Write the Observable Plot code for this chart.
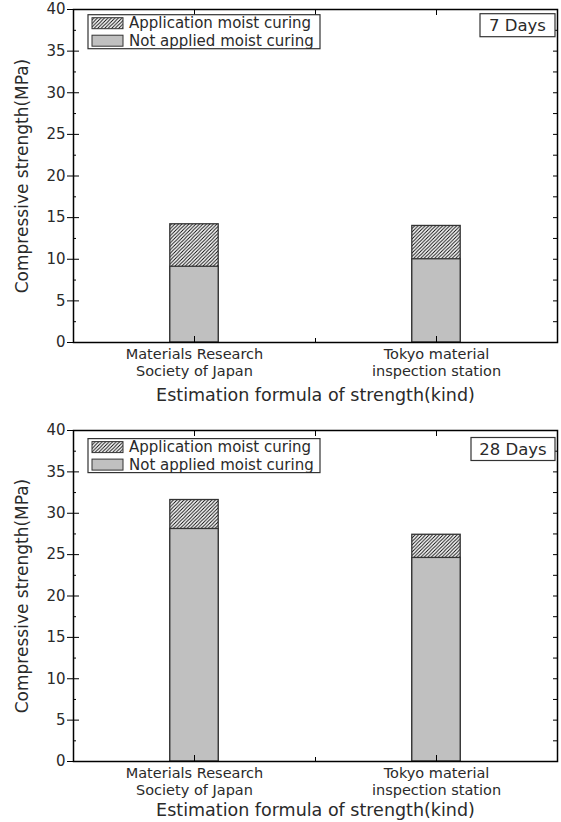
<!DOCTYPE html>
<html>
<head>
<meta charset="utf-8">
<script src="https://cdn.jsdelivr.net/npm/d3@7"></script>
<script src="https://cdn.jsdelivr.net/npm/@observablehq/plot@0.6"></script>
<style>
  body { margin: 0; background: #fff; }
  #chart svg { display: block; }
</style>
</head>
<body>
<div id="chart"></div>
<script>
// ---- data ----
const categories = ["Materials Research\nSociety of Japan", "Tokyo material\ninspection station"];
const seriesNames = ["Application moist curing", "Not applied moist curing"];
const panelLabels = ["7 Days", "28 Days"];
const applied7 = [14.2, 14.0];
const notApplied7 = [9.1, 10.0];
const applied28 = [31.6, 27.4];
const notApplied28 = [28.1, 24.6];
const yMajorTicks = [0, 5, 10, 15, 20, 25, 30, 35, 40];
const yMinorTicks = [2.5, 7.5, 12.5, 17.5, 22.5, 27.5, 32.5, 37.5];
const yLabel = "Compressive strength(MPa)";
const xLabel = "Estimation formula of strength(kind)";

const FONT = "'DejaVu Sans', 'Liberation Sans', sans-serif";
const TEXT = "#2a2a2a";
const W = 561;

const panels = [
  {label: panelLabels[0], applied: applied7, notApplied: notApplied7, height: 411, marginTop: 9, marginBottom: 69, legendDy: 5.7, daysDy: 4.7, titleDy: 53},
  {label: panelLabels[1], applied: applied28, notApplied: notApplied28, height: 411, marginTop: 19, marginBottom: 61, legendDy: 8.6, daysDy: 7.5, titleDy: 49}
];

const idx = categories.map((_, i) => i);
const halfW = 0.1;

panels.forEach((p, k) => {
  const hatchId = "hatch" + k;
  const marginLeft = 73, marginRight = 4;
  const chart = Plot.plot({
    width: W,
    height: p.height,
    marginLeft, marginRight,
    marginTop: p.marginTop,
    marginBottom: p.marginBottom,
    style: {fontFamily: FONT, color: "#000", background: "#fff"},
    x: {type: "linear", domain: [-0.5, 1.5], axis: null},
    y: {domain: [0, 40], axis: null},
    marks: [
      Plot.rectY(idx, {x1: i => i - halfW, x2: i => i + halfW, y1: 0, y2: i => p.applied[i], fill: `url(#${hatchId})`, stroke: "#333", strokeWidth: 1.3}),
      Plot.rectY(idx, {x1: i => i - halfW, x2: i => i + halfW, y1: 0, y2: i => p.notApplied[i], fill: "#c0c0c0", stroke: "#333", strokeWidth: 1.3}),
      // left axis
      Plot.axisY(yMajorTicks, {anchor: "left", tickSize: 6, tickPadding: 2, fontSize: 15, label: null, tickFormat: d => d, fill: TEXT}),
      Plot.axisY(yMajorTicks, {anchor: "left", tickSize: -6, text: null, label: null}),
      Plot.axisY(yMinorTicks, {anchor: "left", tickSize: -3, text: null, label: null}),
      // right axis
      Plot.axisY([...yMajorTicks, ...yMinorTicks], {anchor: "right", tickSize: -5, text: null, label: null}),
      // bottom axis
      Plot.axisX(idx, {anchor: "bottom", tickSize: -6, text: null, label: null}),
      Plot.axisX([0.5], {anchor: "bottom", tickSize: -4, text: null, label: null}),
      Plot.axisX(idx, {anchor: "bottom", tickSize: 0, tickPadding: 5, fontSize: 14.5, lineHeight: 1.15, label: null, tickFormat: i => categories[i], fill: TEXT}),
      // top axis
      Plot.axisX([0, 0.5, 1], {anchor: "top", tickSize: -5, text: null, label: null}),
      Plot.frame({stroke: "#000", strokeWidth: 1.5}),
      Plot.text([xLabel], {frameAnchor: "bottom", dy: p.titleDy, fontSize: 17.5, lineAnchor: "middle", textAnchor: "middle", fill: TEXT}),
      Plot.text([yLabel], {frameAnchor: "left", dx: -51, rotate: -90, fontSize: 17, lineAnchor: "middle", textAnchor: "middle", fill: TEXT})
    ]
  });

  const svg = d3.select(chart);
  // hatch pattern
  const defs = svg.insert("defs", ":first-child");
  const pat = defs.append("pattern").attr("id", hatchId).attr("patternUnits", "userSpaceOnUse")
    .attr("width", 3.5).attr("height", 3.5);
  pat.append("rect").attr("width", 3.5).attr("height", 3.5).attr("fill", "#fff");
  pat.append("path").attr("d", "M-1,1 l2,-2 M0,3.5 l3.5,-3.5 M2.5,4.5 l2,-2").attr("stroke", "#000").attr("stroke-width", 0.9);

  // legend
  const lx = 88, ly = p.marginTop + p.legendDy;
  const g = svg.append("g").attr("font-family", FONT).attr("text-anchor", "start");
  g.append("rect").attr("x", lx).attr("y", ly).attr("width", 232).attr("height", 34)
    .attr("fill", "#fff").attr("stroke", "#333").attr("stroke-width", 1.2);
  const fills = [`url(#${hatchId})`, "#c0c0c0"];
  seriesNames.forEach((name, j) => {
    const cy = ly + 8.5 + j * 17.5;
    g.append("rect").attr("x", lx + 4).attr("y", cy - 5.5).attr("width", 31).attr("height", 11)
      .attr("fill", fills[j]).attr("stroke", "#333").attr("stroke-width", 1);
    g.append("text").attr("x", lx + 41).attr("y", cy).attr("dy", "0.35em")
      .attr("text-anchor", "start")
      .attr("font-size", 15).attr("fill", TEXT).text(name);
  });

  // days box
  const bw = k === 0 ? 75 : 84;
  const bx = W - marginRight - 2 - bw;
  const by = p.marginTop + p.daysDy;
  g.append("rect").attr("x", bx).attr("y", by).attr("width", bw).attr("height", 23)
    .attr("fill", "#fff").attr("stroke", "#333").attr("stroke-width", 1.2);
  g.append("text").attr("x", bx + bw / 2).attr("y", by + 11.5).attr("dy", "0.35em")
    .attr("text-anchor", "middle").attr("font-size", 16.5).attr("fill", TEXT).text(p.label);

  document.getElementById("chart").appendChild(chart);
});
</script>
</body>
</html>
